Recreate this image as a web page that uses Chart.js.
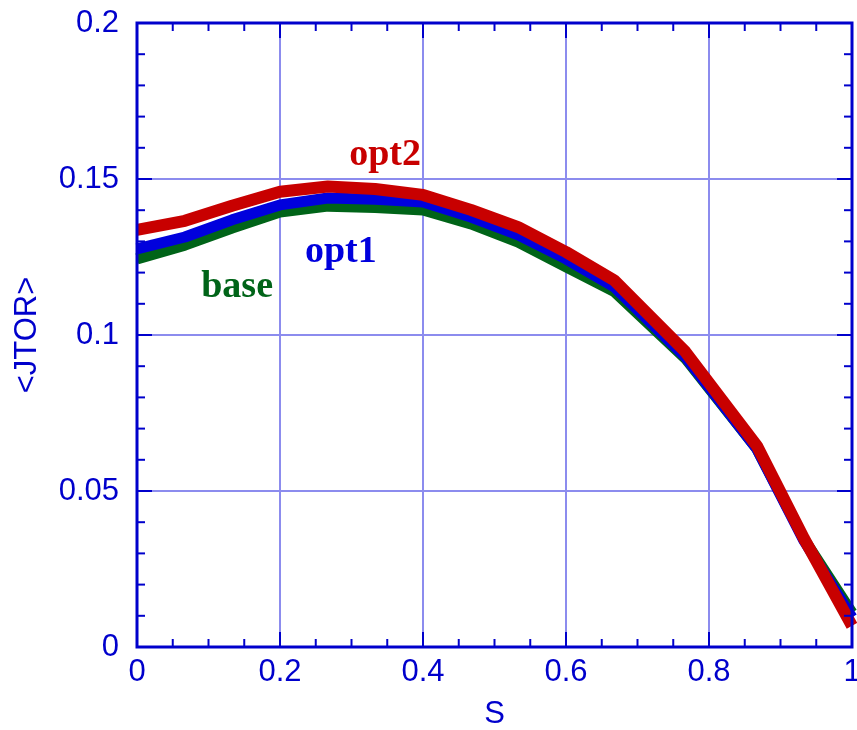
<!DOCTYPE html>
<html>
<head>
<meta charset="utf-8">
<title>JTOR profile</title>
<script src="https://cdn.jsdelivr.net/npm/chart.js@4/dist/chart.umd.min.js"></script>
<style>
 html, body { margin: 0; padding: 0; background: #fff; }
 #wrap { width: 857px; height: 730px; }
</style>
</head>
<body>
<div id="wrap"><canvas id="jtorChart" width="857" height="730"></canvas></div>
<script>
// radial grid (S) and the flux-averaged toroidal current for each case
const sGrid = [0, 0.067, 0.133, 0.2, 0.267, 0.333, 0.4, 0.467, 0.533, 0.6, 0.667, 0.767, 0.867, 0.933, 1.0];
const jtorBase = [0.1244, 0.1288, 0.1343, 0.1394, 0.1413, 0.1409, 0.1401, 0.1356, 0.1298, 0.1218, 0.1140, 0.0925, 0.0635, 0.0345, 0.0110];
const jtorOpt1 = [0.1276, 0.1314, 0.1369, 0.1417, 0.1439, 0.1435, 0.1426, 0.1378, 0.1321, 0.1244, 0.1155, 0.0930, 0.0635, 0.0340, 0.0095];
const jtorOpt2 = [0.1337, 0.1366, 0.1414, 0.1459, 0.1476, 0.1468, 0.1449, 0.1401, 0.1346, 0.1266, 0.1176, 0.0946, 0.0645, 0.0347, 0.0068];

const xTickLabels = ["0", "0.2", "0.4", "0.6", "0.8", "1"];
const yTickLabels = ["0", "0.05", "0.1", "0.15", "0.2"];

// where each case name is written, in data units
const caseNames = ["base", "opt1", "opt2"];
const nameAtS = [0.14, 0.285, 0.347];
const nameAtJ = [0.1122, 0.1234, 0.1545];

const INK = "#0000cc";
const GRID = "#8c8cee";
const caseColors = ["#006418", "#0000dd", "#c80000"];

const toPoints = (vals) => vals.map((v, i) => ({ x: sGrid[i], y: v }));

const frameTicks = {
 id: "frameTicks",
 afterDatasetsDraw(chart) {
  const { ctx, chartArea: a, scales: { x, y } } = chart;
  ctx.save();
  ctx.strokeStyle = INK;
  ctx.lineWidth = 2;
  const seg = (x1, y1, x2, y2) => {
   ctx.beginPath();
   ctx.moveTo(x1, y1);
   ctx.lineTo(x2, y2);
   ctx.stroke();
  };
  // S: major every 0.2, minor every 0.05
  for (let i = 0; i <= 20; i++) {
   const px = x.getPixelForValue(i * 0.05);
   const len = i % 4 === 0 ? 15 : 8;
   seg(px, a.bottom, px, a.bottom - len);
   seg(px, a.top, px, a.top + len);
  }
  // JTOR: major every 0.05, minor every 0.01
  for (let i = 0; i <= 20; i++) {
   const py = y.getPixelForValue(i * 0.01);
   const len = i % 5 === 0 ? 15 : 8;
   seg(a.left, py, a.left + len, py);
   seg(a.right, py, a.right - len, py);
  }
  ctx.lineWidth = 3;
  ctx.strokeRect(a.left, a.top, a.right - a.left, a.bottom - a.top);
  ctx.restore();
 },
};

const caseLabels = {
 id: "caseLabels",
 afterDatasetsDraw(chart) {
  const { ctx, scales: { x, y } } = chart;
  ctx.save();
  ctx.font = "bold 38px 'Liberation Serif', 'Times New Roman', serif";
  ctx.textAlign = "center";
  ctx.textBaseline = "alphabetic";
  caseNames.forEach((name, i) => {
   ctx.fillStyle = caseColors[i];
   ctx.fillText(name, x.getPixelForValue(nameAtS[i]), y.getPixelForValue(nameAtJ[i]));
  });
  ctx.restore();
 },
};

const tickFont = { family: "'Liberation Sans', Arial, sans-serif", size: 31 };
const titleFont = { family: "'Liberation Sans', Arial, sans-serif", size: 31, lineHeight: 1 };

new Chart(document.getElementById("jtorChart"), {
 type: "line",
 data: {
  // lower order is drawn on top: opt2 over opt1 over base
  datasets: [
   { label: "base", data: toPoints(jtorBase), borderColor: caseColors[0], borderWidth: 11, order: 3 },
   { label: "opt1", data: toPoints(jtorOpt1), borderColor: caseColors[1], borderWidth: 11, order: 2 },
   { label: "opt2", data: toPoints(jtorOpt2), borderColor: caseColors[2], borderWidth: 12, order: 1 },
  ].map((d) => ({
   ...d,
   pointRadius: 0,
   tension: 0,
   fill: false,
   clip: false,
   borderCapStyle: "butt",
   borderJoinStyle: "round",
  })),
 },
 options: {
  responsive: false,
  animation: false,
  layout: { padding: { top: 23, right: 5, left: 0, bottom: 0 } },
  plugins: { legend: { display: false }, tooltip: { enabled: false } },
  scales: {
   x: {
    type: "linear",
    min: 0,
    max: 1,
    border: { display: false },
    grid: { color: GRID, lineWidth: 2, drawTicks: false },
    ticks: {
     stepSize: 0.2,
     padding: 7,
     color: INK,
     font: tickFont,
     maxRotation: 0,
     callback: (v) => xTickLabels[Math.round(v / 0.2)],
    },
    title: { display: true, text: "S", color: INK, font: titleFont, padding: { top: 0, bottom: 0 } },
    afterFit(s) {
     s.height = 83;
     s.paddingLeft = 0;
     s.paddingRight = 0;
    },
   },
   y: {
    type: "linear",
    min: 0,
    max: 0.2,
    border: { display: false },
    grid: { color: GRID, lineWidth: 2, drawTicks: false },
    ticks: {
     stepSize: 0.05,
     padding: 18,
     color: INK,
     font: tickFont,
     callback: (v) => yTickLabels[Math.round(v / 0.05)],
    },
    title: { display: true, text: "<JTOR>", color: INK, font: titleFont, padding: { top: 12, bottom: 0 } },
    afterFit(s) {
     s.width = 137;
     s.paddingTop = 0;
     s.paddingBottom = 0;
    },
   },
  },
 },
 plugins: [frameTicks, caseLabels],
});
</script>
</body>
</html>
